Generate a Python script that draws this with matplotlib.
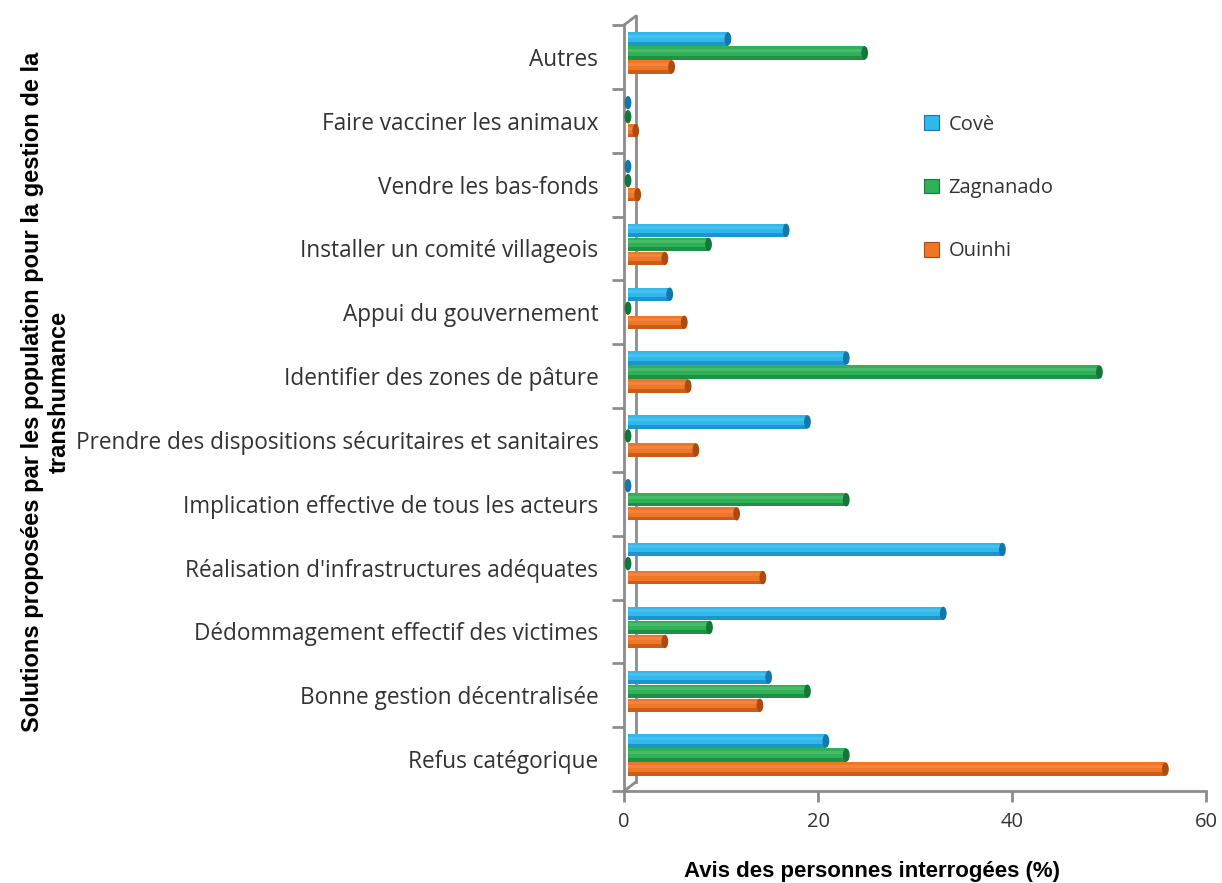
import matplotlib.pyplot as plt
import matplotlib.transforms as mtransforms
from matplotlib.patches import Ellipse, Patch
import numpy as np

# categories listed bottom to top
solutions = [
    "Refus catégorique",
    "Bonne gestion décentralisée",
    "Dédommagement effectif des victimes",
    "Réalisation d'infrastructures adéquates",
    "Implication effective de tous les acteurs",
    "Prendre des dispositions sécuritaires et sanitaires",
    "Identifier des zones de pâture",
    "Appui du gouvernement",
    "Installer un comité villageois",
    "Vendre les bas-fonds",
    "Faire vacciner les animaux",
    "Autres",
]
cove = [20.4, 14.5, 32.5, 38.6, 0.0, 18.5, 22.5, 4.3, 16.3, 0.0, 0.0, 10.3]
zagnanado = [22.5, 18.5, 8.4, 0.0, 22.5, 0.0, 48.6, 0.0, 8.3, 0.0, 0.0, 24.4]
ouinhi = [55.4, 13.6, 3.8, 13.9, 11.2, 7.0, 6.2, 5.8, 3.8, 1.0, 0.8, 4.5]

series = [
    ("Covè", cove, "#2fb8ec", "#1477a8", 0.22),
    ("Zagnanado", zagnanado, "#2fb257", "#17743a", 0.0),
    ("Ouinhi", ouinhi, "#f07526", "#a84c14", -0.22),
]

plt.rcParams["font.family"] = ["Open Sans", "DejaVu Sans"]

fig = plt.figure(figsize=(12.22, 8.83), dpi=100)
ax = fig.add_axes([624 / 1222, 1 - 791 / 883, 582 / 1222, 766 / 883])

# small shift to give the bars some depth
depth = mtransforms.ScaledTranslation(0.04, 0.04, fig.dpi_scale_trans)
bar_tr = ax.transData + depth

y = np.arange(len(solutions))
h = 0.21
for name, vals, col, dark, off in series:
    pos = y + off
    ax.barh(pos, vals, height=h, color=col, edgecolor="none", transform=bar_tr, zorder=3)
    # darker lower band and light upper band for a rounded look
    ax.barh(pos - h * 0.36, vals, height=h * 0.28, color=dark, alpha=0.55,
            edgecolor="none", transform=bar_tr, zorder=4)
    ax.barh(pos + h * 0.2, vals, height=h * 0.22, color="white", alpha=0.12,
            edgecolor="none", transform=bar_tr, zorder=4)
    for v, p in zip(vals, pos):
        ax.add_patch(Ellipse((v, p), width=0.7, height=h, facecolor=dark,
                             edgecolor="none", transform=bar_tr, zorder=5))

ax.set_xlim(0, 60)
ax.set_ylim(-0.5, 11.5)
ax.set_xticks([0, 20, 40, 60])
ax.set_yticks(y)
ax.set_yticklabels(solutions)
ax.set_yticks(np.arange(-0.5, 12, 1), minor=True)

axis_col = "#8c8c8c"
ax.tick_params(axis="y", which="major", length=0, pad=18.5, labelsize=16.3, labelcolor="#333333")
ax.tick_params(axis="y", which="minor", length=9, width=2, color=axis_col)
ax.tick_params(axis="x", length=8, width=2, color=axis_col, labelsize=14.5,
               labelcolor="#333333", pad=7)
for s in ["top", "right"]:
    ax.spines[s].set_visible(False)
for s in ["left", "bottom"]:
    ax.spines[s].set_color(axis_col)
    ax.spines[s].set_linewidth(2)

# back wall line and its corners
back = ax.transData + mtransforms.ScaledTranslation(0.12, 0.09, fig.dpi_scale_trans)
ax.plot([0, 0], [-0.5, 11.5], color=axis_col, lw=2, transform=back, clip_on=False, zorder=1)
for yy in (-0.5, 11.5):
    ax.annotate("", xy=(0, yy), xytext=(8.6, 6.5), textcoords="offset points",
                arrowprops=dict(arrowstyle="-", color=axis_col, lw=2,
                                shrinkA=0, shrinkB=0))

fig.text(46 / 1222, 1 - 392 / 883,
         "Solutions proposées par les population pour la gestion de la\ntranshumance",
         rotation=90, ha="center", va="center", fontsize=17, fontweight="bold",
         family=["Liberation Sans", "DejaVu Sans"], linespacing=1.25)
fig.text(872 / 1222, 1 - 872 / 883, "Avis des personnes interrogées (%)",
         ha="center", va="center", fontsize=16, fontweight="bold",
         family=["Liberation Sans", "DejaVu Sans"])

handles = [Patch(facecolor=c, edgecolor=d, linewidth=0.8, label=n) for n, _, c, d, _ in series]
fig.legend(handles=handles, loc="center left", bbox_to_anchor=(906 / 1222, 1 - 188 / 883),
           frameon=False, fontsize=14.5, labelspacing=2.15, handlelength=0.75,
           handleheight=0.75, handletextpad=0.45, labelcolor="#333333")

fig.savefig("out.png", dpi=100)
